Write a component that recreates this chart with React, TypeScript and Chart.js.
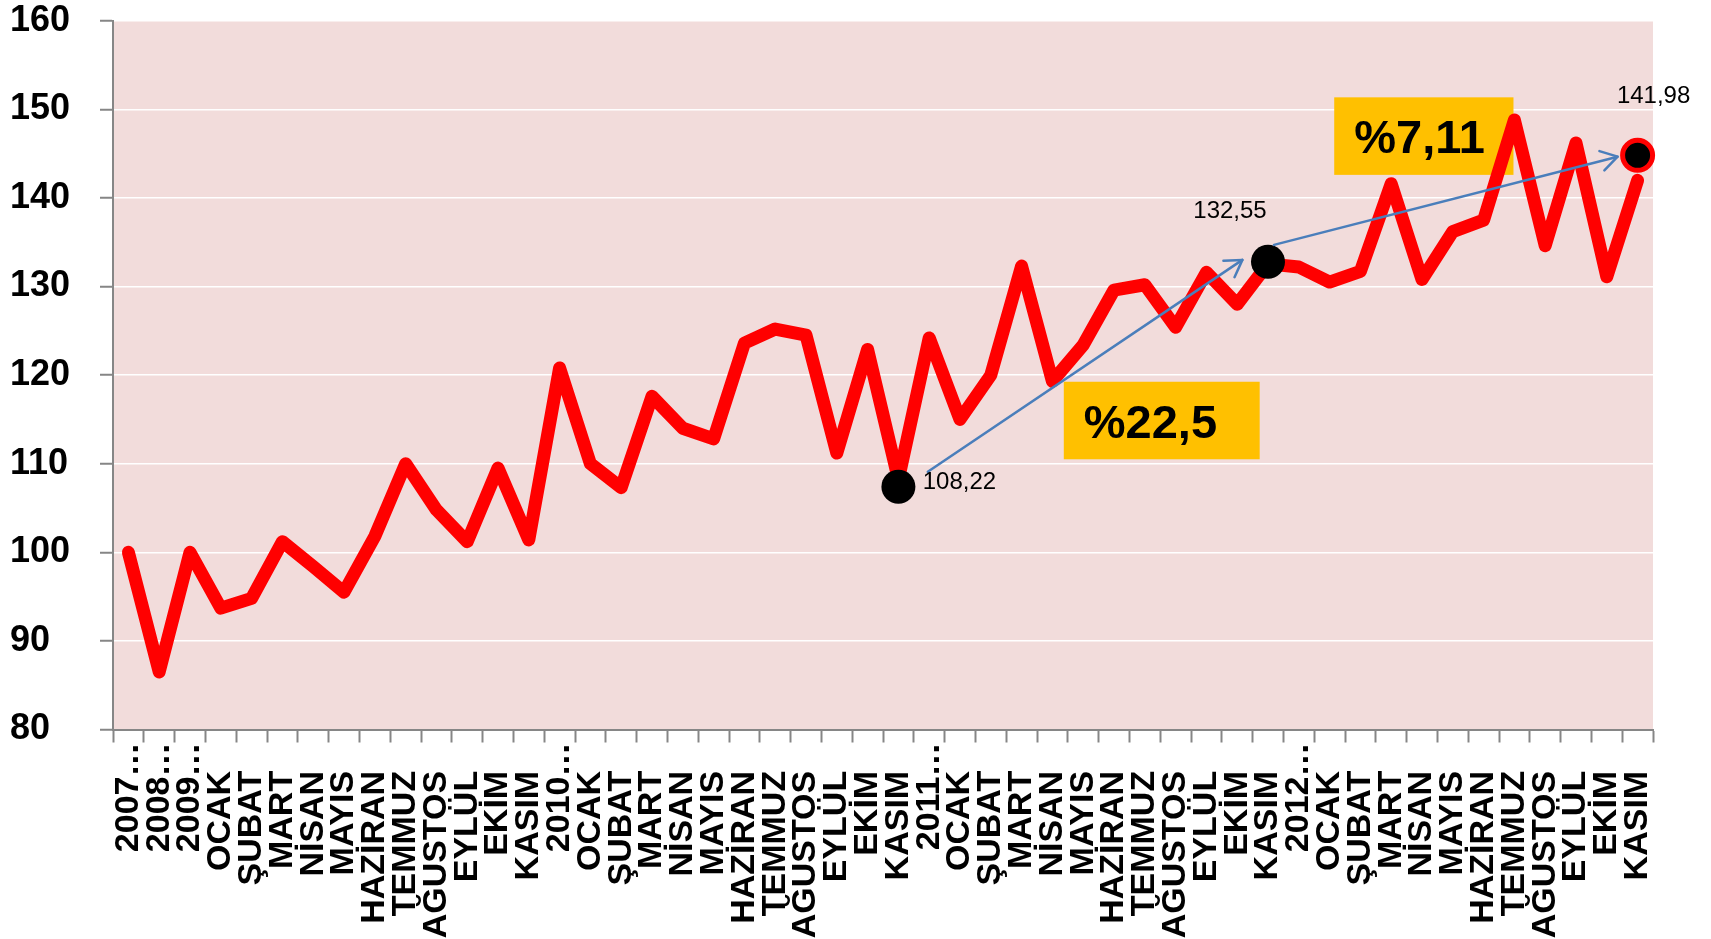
import React, { useEffect, useRef } from 'react';
import { Chart, registerables } from 'chart.js';

Chart.register(...registerables);

// ---- data ----
const xLabels = [
  '2007…', '2008…', '2009…',
  'OCAK', 'ŞUBAT', 'MART', 'NİSAN', 'MAYIS', 'HAZİRAN', 'TEMMUZ', 'AĞUSTOS', 'EYLÜL', 'EKİM', 'KASIM',
  '2010…',
  'OCAK', 'ŞUBAT', 'MART', 'NİSAN', 'MAYIS', 'HAZİRAN', 'TEMMUZ', 'AĞUSTOS', 'EYLÜL', 'EKİM', 'KASIM',
  '2011…',
  'OCAK', 'ŞUBAT', 'MART', 'NİSAN', 'MAYIS', 'HAZİRAN', 'TEMMUZ', 'AĞUSTOS', 'EYLÜL', 'EKİM', 'KASIM',
  '2012…',
  'OCAK', 'ŞUBAT', 'MART', 'NİSAN', 'MAYIS', 'HAZİRAN', 'TEMMUZ', 'AĞUSTOS', 'EYLÜL', 'EKİM', 'KASIM',
];

const indexValues = [
  100.0, 86.5, 100.0,
  93.7, 94.8, 101.2, 98.4, 95.5, 101.8, 110.0, 104.8, 101.2, 109.5, 101.4,
  120.8,
  110.0, 107.3, 117.6, 114.0, 112.8, 123.6, 125.2, 124.5, 111.2, 122.9, 108.22,
  124.2,
  115.0, 120.0, 132.3, 119.3, 123.4, 129.6, 130.2, 125.4, 131.6, 128.0, 132.55,
  132.2,
  130.5, 131.7, 141.6, 130.8, 136.2, 137.5, 148.8, 134.6, 146.2, 131.1, 141.98,
];

const yTicks = [80, 90, 100, 110, 120, 130, 140, 150, 160];

const markerIndices = [25, 37, 49];
const markerValues = [107.4, 132.8, 144.8];
const markerLabels = ['108,22', '132,55', '141,98'];

const changeLabels = ['%22,5', '%7,11'];

// ---- styles / layout of annotations ----
const BG = '#F2DCDB';
const GRAY = '#868686';
const RED = '#FF0000';
const BLUE = '#4A7EBB';
const GOLD = '#FFC000';
const FONT = '"Liberation Sans", Arial, sans-serif';

// boxes in (category index, value) coordinates
const boxSpots = [
  { x0: 30.37, x1: 36.73, y0: 119.25, y1: 110.5 },
  { x0: 39.15, x1: 44.97, y0: 151.35, y1: 142.6 },
];
// label offsets (pixels) from the marker centres: [dx centre, dy baseline]
const labelOffsets = [
  { dx: 61, dy: 2.3 },
  { dx: -38, dy: -44 },
  { dx: 16, dy: -52 },
];
// arrows: from marker a (+offset) to marker b (+offset)
const arrowSpots = [
  { a: 0, ax: 29.4, ay: -15, b: 1, bx: -25.6, by: -1.8 },
  { a: 1, ax: 6, ay: -16.8, b: 2, bx: -20, by: 1.3 },
];

const markerData = xLabels.map((_, i) => {
  const k = markerIndices.indexOf(i);
  return k >= 0 ? markerValues[k] : null;
});

function perMarker(vals: any[], fallback: any) {
  return xLabels.map((_, i) => {
    const k = markerIndices.indexOf(i);
    return k >= 0 ? vals[k] : fallback;
  });
}

function drawArrow(ctx: CanvasRenderingContext2D, x0: number, y0: number, x1: number, y1: number) {
  ctx.beginPath();
  ctx.moveTo(x0, y0);
  ctx.lineTo(x1, y1);
  ctx.stroke();
  const a = Math.atan2(y1 - y0, x1 - x0);
  const L = 19;
  const w = 0.55;
  ctx.beginPath();
  ctx.moveTo(x1 - L * Math.cos(a - w), y1 - L * Math.sin(a - w));
  ctx.lineTo(x1, y1);
  ctx.lineTo(x1 - L * Math.cos(a + w), y1 - L * Math.sin(a + w));
  ctx.stroke();
}

const overlayPlugin = {
  id: 'overlay',
  beforeDraw(chart: any) {
    const { ctx, chartArea } = chart;
    ctx.save();
    ctx.fillStyle = BG;
    ctx.fillRect(chartArea.left, chartArea.top, chartArea.right - chartArea.left, chartArea.bottom - chartArea.top);
    ctx.restore();
  },
  beforeDatasetsDraw(chart: any) {
    const { ctx } = chart;
    const xs = chart.scales.x;
    const ys = chart.scales.y;
    ctx.save();
    boxSpots.forEach((b, i) => {
      const l = xs.getPixelForValue(b.x0);
      const r = xs.getPixelForValue(b.x1);
      const t = ys.getPixelForValue(b.y0);
      const bt = ys.getPixelForValue(b.y1);
      ctx.fillStyle = GOLD;
      ctx.fillRect(l, t, r - l, bt - t);
      ctx.fillStyle = '#000';
      ctx.font = `bold 47px ${FONT}`;
      ctx.textAlign = 'left';
      ctx.textBaseline = 'alphabetic';
      ctx.fillText(changeLabels[i], l + 20, (t + bt) / 2 + 17);
    });
    ctx.restore();
  },
  afterDatasetsDraw(chart: any) {
    const { ctx } = chart;
    const pts = chart.getDatasetMeta(0).data;
    const mk = markerIndices.map((i) => pts[i]);
    ctx.save();
    ctx.strokeStyle = BLUE;
    ctx.lineWidth = 2.5;
    ctx.lineCap = 'round';
    ctx.lineJoin = 'round';
    arrowSpots.forEach((s) => {
      const p = mk[s.a];
      const q = mk[s.b];
      drawArrow(ctx, p.x + s.ax, p.y + s.ay, q.x + s.bx, q.y + s.by);
    });
    ctx.fillStyle = '#000';
    ctx.font = `24px ${FONT}`;
    ctx.textAlign = 'center';
    ctx.textBaseline = 'alphabetic';
    markerLabels.forEach((t, i) => {
      const p = mk[i];
      const o = labelOffsets[i];
      ctx.fillText(t, p.x + o.dx, p.y + o.dy);
    });
    ctx.restore();
  },
};

export default function App() {
  const ref = useRef<HTMLCanvasElement | null>(null);

  useEffect(() => {
    if (!ref.current) return;
    const chart = new Chart(ref.current, {
      type: 'line',
      data: {
        labels: xLabels,
        datasets: [
          {
            label: 'markers',
            data: markerData,
            showLine: false,
            pointRadius: perMarker([17, 17, 15], 0),
            pointBorderWidth: perMarker([0, 0, 5], 0),
            pointBackgroundColor: '#000',
            pointBorderColor: perMarker(['#000', '#000', RED], '#000'),
            clip: false as any,
          },
          {
            label: 'index',
            data: indexValues,
            borderColor: RED,
            borderWidth: 13,
            borderJoinStyle: 'round',
            borderCapStyle: 'round',
            pointRadius: 0,
            tension: 0,
            fill: false,
          },
        ],
      },
      options: {
        animation: false,
        responsive: true,
        maintainAspectRatio: false,
        events: [],
        layout: { autoPadding: false, padding: { left: 10, right: 58, top: 0, bottom: 0 } },
        plugins: {
          legend: { display: false },
          tooltip: { enabled: false },
        },
        scales: {
          x: {
            type: 'category',
            offset: true,
            grid: {
              offset: true,
              drawOnChartArea: false,
              drawTicks: true,
              tickLength: 13,
              tickColor: GRAY,
              tickWidth: 2,
            },
            border: { color: GRAY, width: 2 },
            ticks: {
              autoSkip: false,
              maxRotation: 90,
              minRotation: 90,
              padding: 0,
              color: '#000',
              font: { family: FONT, size: 34, weight: 'bold', lineHeight: 1.2 },
              callback: (_v: any, i: number) => {
                const l = xLabels[i];
                return l.endsWith('…') ? l : l + '   ';
              },
            },
            afterFit: (scale: any) => { scale.height = 209.5; },
          },
          y: {
            min: yTicks[0],
            max: yTicks[yTicks.length - 1],
            afterBuildTicks: (scale: any) => { scale.ticks = yTicks.map((v) => ({ value: v })); },
            grid: {
              color: '#FFFFFF',
              lineWidth: 1.5,
              drawTicks: true,
              tickLength: 13,
              tickColor: GRAY,
              tickWidth: 2,
            },
            border: { color: GRAY, width: 2 },
            ticks: {
              padding: 0,
              crossAlign: 'far',
              color: '#000',
              font: { family: FONT, size: 36, weight: 'bold', lineHeight: 1.15 },
            },
            afterFit: (scale: any) => { scale.width = 103; },
          },
        },
      },
      plugins: [overlayPlugin],
    } as any);
    return () => chart.destroy();
  }, []);

  return (
    <div style={{ position: 'absolute', left: 0, top: 0, width: 1711, height: 939, background: '#fff' }}>
      <canvas ref={ref} />
    </div>
  );
}
